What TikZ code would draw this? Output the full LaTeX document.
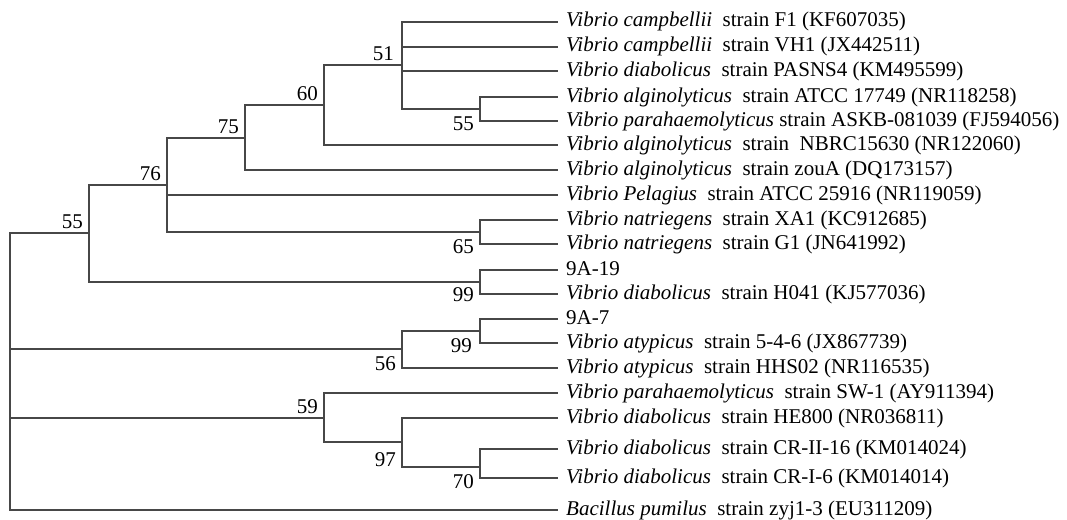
\documentclass[tikz,border=0pt]{standalone}
\usepackage{fontspec}
\setmainfont{Liberation Serif}
\begin{document}
\begin{tikzpicture}[x=1pt,y=-1pt,
  br/.style={draw=black!72,line width=1.3pt},
  leaf/.style={anchor=base west,inner sep=0pt,font=\fontsize{21}{25}\selectfont},
  bsup/.style={anchor=base east,inner sep=0pt,font=\fontsize{21}{25}\selectfont},
  bsdn/.style={anchor=base east,inner sep=0pt,font=\fontsize{21}{25}\selectfont}]
\useasboundingbox (0,0) rectangle (1067,519);
% leaf ends and texts
\foreach \i/\y/\t in {
 1/22/{\textit{Vibrio campbellii}\ \ strain F1 (KF607035)},
 2/47/{\textit{Vibrio campbellii}\ \ strain VH1 (JX442511)},
 3/71/{\textit{Vibrio diabolicus}\ \ strain PASNS4 (KM495599)},
 4/97/{\textit{Vibrio alginolyticus}\ \ strain ATCC 17749 (NR118258)},
 5/121/{\textit{Vibrio parahaemolyticus} strain ASKB-081039 (FJ594056)},
 6/145/{\textit{Vibrio alginolyticus}\ \ strain\ \ NBRC15630 (NR122060)},
 7/170/{\textit{Vibrio alginolyticus}\ \ strain zouA (DQ173157)},
 8/195/{\textit{Vibrio Pelagius}\ \ strain ATCC 25916 (NR119059)},
 9/220/{\textit{Vibrio natriegens}\ \ strain XA1 (KC912685)},
 10/244/{\textit{Vibrio natriegens}\ \ strain G1 (JN641992)},
 11/270/{9A-19},
 12/294/{\textit{Vibrio diabolicus}\ \ strain H041 (KJ577036)},
 13/319/{9A-7},
 14/343/{\textit{Vibrio atypicus}\ \ strain 5-4-6 (JX867739)},
 15/368/{\textit{Vibrio atypicus}\ \ strain HHS02 (NR116535)},
 16/393/{\textit{Vibrio parahaemolyticus}\ \ strain SW-1 (AY911394)},
 17/418/{\textit{Vibrio diabolicus}\ \ strain HE800 (NR036811)},
 18/449/{\textit{Vibrio diabolicus}\ \ strain CR-II-16 (KM014024)},
 19/478/{\textit{Vibrio diabolicus}\ \ strain CR-I-6 (KM014014)},
 20/510/{\textit{Bacillus pumilus}\ \ strain zyj1-3 (EU311209)}}{
  \coordinate (e\i) at (558,\y);
  \node[leaf] (t\i) at (566,\y+5) {\t};
}
% internal nodes
\coordinate (root) at (10,371);
\coordinate (n55) at (89,233);
\coordinate (n76) at (167,185);
\coordinate (n75) at (245,138);
\coordinate (n60) at (324,105);
\coordinate (n51) at (402,65);
\coordinate (n55b) at (480,109);
\coordinate (n65) at (480,232);
\coordinate (n99a) at (480,282);
\coordinate (n56) at (402,349);
\coordinate (n99b) at (480,331);
\coordinate (n59) at (324,418);
\coordinate (n97) at (402,442);
\coordinate (n70) at (480,467);
% branches
\draw[br] (root) |- (n55); \draw[br] (root) |- (n56);
\draw[br] (root) |- (n59); \draw[br] (root) |- (e20);
\draw[br] (n55) |- (n76); \draw[br] (n55) |- (n99a);
\draw[br] (n76) |- (n75); \draw[br] (n76) |- (e8); \draw[br] (n76) |- (n65);
\draw[br] (n75) |- (n60); \draw[br] (n75) |- (e7);
\draw[br] (n60) |- (n51); \draw[br] (n60) |- (e6);
\draw[br] (n51) |- (e1); \draw[br] (n51) |- (e2); \draw[br] (n51) |- (e3); \draw[br] (n51) |- (n55b);
\draw[br] (n55b) |- (e4); \draw[br] (n55b) |- (e5);
\draw[br] (n65) |- (e9); \draw[br] (n65) |- (e10);
\draw[br] (n99a) |- (e11); \draw[br] (n99a) |- (e12);
\draw[br] (n56) |- (n99b); \draw[br] (n56) |- (e15);
\draw[br] (n99b) |- (e13); \draw[br] (n99b) |- (e14);
\draw[br] (n59) |- (e16); \draw[br] (n59) |- (n97);
\draw[br] (n97) |- (e17); \draw[br] (n97) |- (n70);
\draw[br] (n70) |- (e18); \draw[br] (n70) |- (e19);
% bootstrap values
\node[bsup] (b55) at ([shift={(-6,-5)}]n55) {55};
\node[bsup] (b76) at ([shift={(-6,-5)}]n76) {76};
\node[bsup] (b75) at ([shift={(-6,-5)}]n75) {75};
\node[bsup] (b60) at ([shift={(-6,-5)}]n60) {60};
\node[bsup] (b51) at ([shift={(-8,-5)}]n51) {51};
\node[bsup] (b59) at ([shift={(-6,-5)}]n59) {59};
\node[bsdn] (b55b) at ([shift={(-6,21)}]n55b) {55};
\node[bsdn] (b65) at ([shift={(-6,21)}]n65) {65};
\node[bsdn] (b99a) at ([shift={(-6,19)}]n99a) {99};
\node[bsdn] (b99b) at ([shift={(-8,21)}]n99b) {99};
\node[bsdn] (b56) at ([shift={(-6,21)}]n56) {56};
\node[bsdn] (b97) at ([shift={(-6,24)}]n97) {97};
\node[bsdn] (b70) at ([shift={(-6,21)}]n70) {70};
\end{tikzpicture}
\end{document}
